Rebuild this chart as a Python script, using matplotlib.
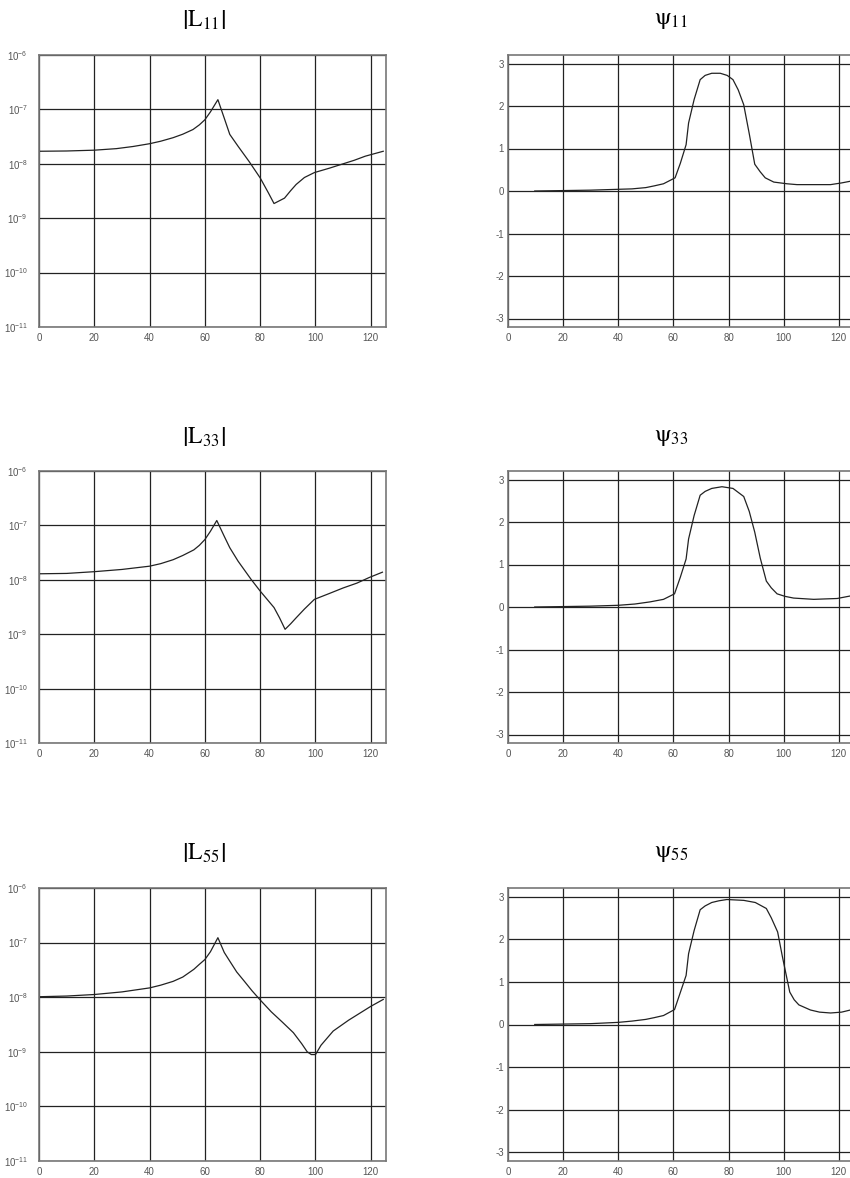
import matplotlib
matplotlib.use('Agg')
import matplotlib.pyplot as plt
from matplotlib.ticker import FuncFormatter, FixedLocator
import numpy as np

plt.rcParams['font.family'] = ['Liberation Sans', 'DejaVu Sans']
plt.rcParams['mathtext.fontset'] = 'custom'
plt.rcParams['mathtext.rm'] = 'Liberation Sans'
plt.rcParams['axes.unicode_minus'] = False

# magnitude curves |Lkk| (log scale)
x_L11 = [0, 10, 20, 28, 34, 40, 44, 48.5, 52, 55.7, 58, 60, 62, 64.7, 67, 69, 72, 76, 80, 83, 85, 88.8, 91, 93, 96, 99.6, 105, 110, 114, 118, 121, 124.5]
L11 = [1.70e-8, 1.72e-8, 1.78e-8, 1.90e-8, 2.08e-8, 2.34e-8, 2.60e-8, 3.02e-8, 3.50e-8, 4.27e-8, 5.20e-8, 6.46e-8, 9.0e-8, 1.51e-7, 6.9e-8, 3.47e-8, 2.1e-8, 1.10e-8, 5.5e-9, 2.9e-9, 1.86e-9, 2.34e-9, 3.2e-9, 4.17e-9, 5.6e-9, 6.9e-9, 8.3e-9, 1.0e-8, 1.16e-8, 1.38e-8, 1.52e-8, 1.70e-8]

x_L33 = [0, 10, 20, 30, 40, 44, 48.5, 52, 56, 58, 60, 62, 64.3, 67, 69, 72, 76.7, 80, 85, 87, 89, 91, 93, 96, 99.6, 105, 110, 115, 119.4, 124.2]
L33 = [1.29e-8, 1.31e-8, 1.41e-8, 1.55e-8, 1.78e-8, 1.98e-8, 2.34e-8, 2.80e-8, 3.55e-8, 4.3e-8, 5.5e-8, 7.8e-8, 1.23e-7, 6.3e-8, 3.89e-8, 2.2e-8, 1.02e-8, 6.2e-9, 3.09e-9, 2.0e-9, 1.23e-9, 1.55e-9, 2.0e-9, 2.9e-9, 4.37e-9, 5.6e-9, 7.08e-9, 8.7e-9, 1.10e-8, 1.38e-8]

x_L55 = [0, 10, 20, 30, 40, 44, 48.5, 52, 56, 58, 60, 62, 64.7, 67, 69, 71.5, 74.3, 77, 80, 84, 88, 92, 95, 97, 98.5, 100, 102, 106.4, 112, 120, 124.5]
L55 = [1.02e-8, 1.05e-8, 1.12e-8, 1.25e-8, 1.48e-8, 1.66e-8, 1.95e-8, 2.34e-8, 3.24e-8, 4.0e-8, 4.9e-8, 6.8e-8, 1.23e-7, 6.6e-8, 4.57e-8, 2.9e-8, 1.95e-8, 1.32e-8, 8.9e-9, 5.4e-9, 3.5e-9, 2.24e-9, 1.41e-9, 1.0e-9, 8.9e-10, 8.9e-10, 1.32e-9, 2.4e-9, 3.8e-9, 6.8e-9, 9.1e-9]

# phase curves psi_kk
x_p11 = [9.7, 20, 30, 40, 45, 50, 53, 56.4, 60.6, 62.5, 64.6, 65.5, 67.5, 69.7, 71.5, 73.9, 77, 79.5, 81.6, 83.5, 85.5, 87.5, 89.5, 91.5, 93.3, 96.4, 101.2, 104.8, 110, 117, 121, 124.2]
p11 = [0.0, 0.01, 0.02, 0.04, 0.05, 0.08, 0.12, 0.17, 0.31, 0.65, 1.09, 1.60, 2.15, 2.62, 2.72, 2.77, 2.77, 2.72, 2.62, 2.38, 2.03, 1.35, 0.63, 0.45, 0.31, 0.21, 0.17, 0.15, 0.15, 0.15, 0.19, 0.23]

x_p33 = [9.7, 20, 30, 40, 46, 51.5, 56.4, 60.4, 62.5, 64.6, 65.5, 67.5, 69.7, 71.5, 73.9, 77.6, 81.6, 85.5, 87.5, 89.5, 91.5, 93.7, 95.5, 97.6, 100.5, 103.6, 110.9, 115, 119.4, 124.2]
p33 = [0.0, 0.01, 0.02, 0.04, 0.07, 0.12, 0.18, 0.31, 0.70, 1.13, 1.60, 2.15, 2.63, 2.72, 2.79, 2.83, 2.79, 2.60, 2.25, 1.76, 1.15, 0.61, 0.45, 0.31, 0.25, 0.21, 0.18, 0.19, 0.20, 0.26]

x_p55 = [9.7, 20, 30, 40, 45, 50, 53, 56.4, 60.4, 62.5, 64.6, 65.5, 67.5, 69.7, 71.5, 73.9, 76.5, 79.4, 85.5, 89.7, 93.7, 95.5, 97.8, 99.5, 101.2, 102.2, 103.8, 105.5, 109.7, 113, 117, 121, 124.2]
p55 = [0.0, 0.01, 0.02, 0.05, 0.08, 0.12, 0.16, 0.21, 0.35, 0.75, 1.15, 1.66, 2.20, 2.69, 2.78, 2.86, 2.90, 2.93, 2.91, 2.86, 2.72, 2.50, 2.17, 1.60, 1.07, 0.76, 0.58, 0.46, 0.34, 0.29, 0.27, 0.29, 0.34]

mag_titles = [r'$\left|\mathrm{L}_{11}\right|$', r'$\left|\mathrm{L}_{33}\right|$', r'$\left|\mathrm{L}_{55}\right|$']
psi_titles = [r'$\mathrm{\psi}_{11}$', r'$\mathrm{\psi}_{33}$', r'$\mathrm{\psi}_{55}$']
mag_series = [(x_L11, L11), (x_L33, L33), (x_L55, L55)]
psi_series = [(x_p11, p11), (x_p33, p33), (x_p55, p55)]

x_ticks = [0, 20, 40, 60, 80, 100, 120]
log_ticks = [1e-11, 1e-10, 1e-9, 1e-8, 1e-7, 1e-6]
psi_ticks = [-3, -2, -1, 0, 1, 2, 3]

W, H = 850, 1178
fig = plt.figure(figsize=(W / 100, H / 100), dpi=100)

# pixel boxes (top, bottom) of each row
rows = [(55, 327), (471, 743), (888, 1161)]
title_y = [20, 437, 853]
left_x = (39, 386)
right_x = (508, 854)


def style_axes(ax):
    ax.set_xlim(0, 125.5)
    ax.xaxis.set_major_locator(FixedLocator(x_ticks))
    ax.grid(True, color='#222222', linewidth=0.9)
    ax.set_axisbelow(True)
    ax.tick_params(length=0, labelsize=7, labelcolor='#555555', pad=4)
    for sp in ax.spines.values():
        sp.set_color('#777777')
        sp.set_linewidth(1.2)


for i, (top, bot) in enumerate(rows):
    # magnitude panel
    axl = fig.add_axes([left_x[0] / W, 1 - bot / H, (left_x[1] - left_x[0]) / W, (bot - top) / H])
    xs, ys = mag_series[i]
    axl.semilogy(xs, ys, color='#222222', linewidth=0.9)
    axl.set_ylim(1e-11, 1e-6)
    axl.yaxis.set_major_locator(FixedLocator(log_ticks))
    axl.yaxis.set_minor_locator(FixedLocator([]))
    axl.yaxis.set_major_formatter(FuncFormatter(lambda v, _: r'$\mathregular{10^{%d}}$' % round(np.log10(v))))
    style_axes(axl)
    axl.tick_params(axis='y', labelsize=7, pad=8)

    # phase panel
    axr = fig.add_axes([right_x[0] / W, 1 - bot / H, (right_x[1] - right_x[0]) / W, (bot - top) / H])
    xs, ys = psi_series[i]
    axr.plot(xs, ys, color='#222222', linewidth=0.9)
    axr.set_ylim(-3.2, 3.2)
    axr.yaxis.set_major_locator(FixedLocator(psi_ticks))
    style_axes(axr)
    axr.tick_params(axis='y', pad=3)

    fig.text(204 / W, 1 - title_y[i] / H, mag_titles[i], math_fontfamily='stix',
             fontsize=17, ha='center', va='center')
    fig.text(671 / W, 1 - title_y[i] / H, psi_titles[i], math_fontfamily='stix',
             fontsize=17, ha='center', va='center')

fig.savefig('out.png', dpi=100)
